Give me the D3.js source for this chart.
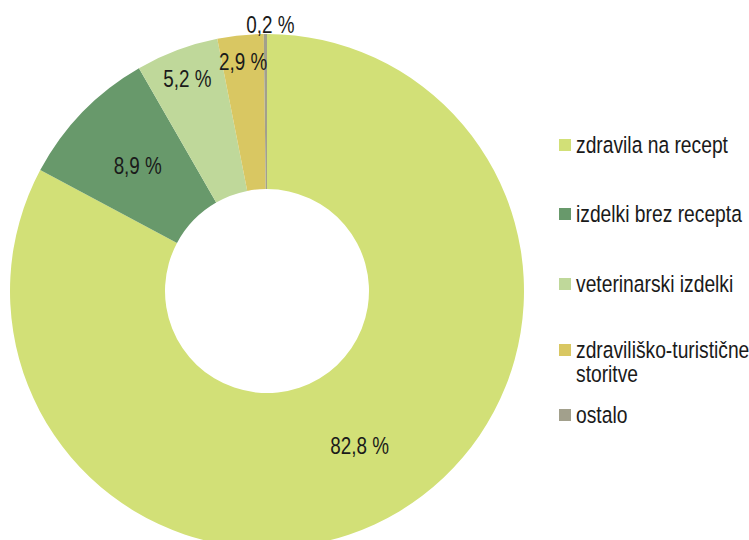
<!DOCTYPE html>
<html>
<head>
<meta charset="utf-8">
<script src="https://cdn.jsdelivr.net/npm/d3@7"></script>
<style>
  body { margin: 0; background: #fff; }
  svg text { font-family: "Liberation Sans", Arial, sans-serif; fill: #1a1a1a; }
</style>
</head>
<body>
<div id="chart"></div>
<script>
// Struktura prodaje (delež, %)
const categories = ["zdravila na recept", "izdelki brez recepta", "veterinarski izdelki", "zdraviliško-turistične storitve", "ostalo"];
const values = [82.8, 8.9, 5.2, 2.9, 0.2];
const labels = ["82,8 %", "8,9 %", "5,2 %", "2,9 %", "0,2 %"];
const colors = ["#d2e077", "#68996b", "#bfd89a", "#d9c762", "#a2a08c"];

const width = 749, height = 540;
const cx = 267, cy = 291;
const outerR = 257, innerR = 102;
const narrow = 0.82; // fake "Arial Narrow"

const svg = d3.select("#chart")
    .append("svg")
    .attr("width", width)
    .attr("height", height);

const g = svg.append("g")
    .attr("transform", `translate(${cx},${cy})`);

const pie = d3.pie()
    .value(d => d)
    .sort(null);

const arcs = pie(values);

const arc = d3.arc()
    .innerRadius(innerR)
    .outerRadius(outerR);

g.selectAll("path")
    .data(arcs)
    .join("path")
    .attr("d", arc)
    .attr("fill", (d, i) => colors[i]);

// label radius: small slices have their labels pushed outwards
const labelR = [180, 180, 227, 230, 266];
const labelDx = [0, 0, 0, 0, 5];

g.selectAll("text.lbl")
    .data(arcs)
    .join("text")
    .attr("class", "lbl")
    .attr("text-anchor", "middle")
    .attr("dominant-baseline", "central")
    .style("font-size", "23px")
    .attr("transform", (d, i) => {
        const a = (d.startAngle + d.endAngle) / 2;
        const x = Math.sin(a) * labelR[i] + labelDx[i];
        const y = -Math.cos(a) * labelR[i];
        return `translate(${x},${y}) scale(${narrow},1)`;
    })
    .text((d, i) => labels[i]);

// legend
const legend = svg.append("g")
    .attr("transform", "translate(559,0)");

const rowY = [145, 214, 284, 350, 415];

const item = legend.selectAll("g")
    .data(categories)
    .join("g")
    .attr("transform", (d, i) => `translate(0,${rowY[i]})`);

item.append("rect")
    .attr("x", 0)
    .attr("y", -6)
    .attr("width", 12)
    .attr("height", 12)
    .attr("fill", (d, i) => colors[i]);

item.append("text")
    .attr("transform", `translate(17,8) scale(${narrow},1)`)
    .style("font-size", "23.5px")
    .each(function (d) {
        const parts = d === "zdraviliško-turistične storitve" ? ["zdraviliško-turistične", "storitve"] : [d];
        d3.select(this).selectAll("tspan")
            .data(parts)
            .join("tspan")
            .attr("x", 0)
            .attr("dy", (p, j) => j === 0 ? 0 : 24)
            .text(p => p);
    });
</script>
</body>
</html>
